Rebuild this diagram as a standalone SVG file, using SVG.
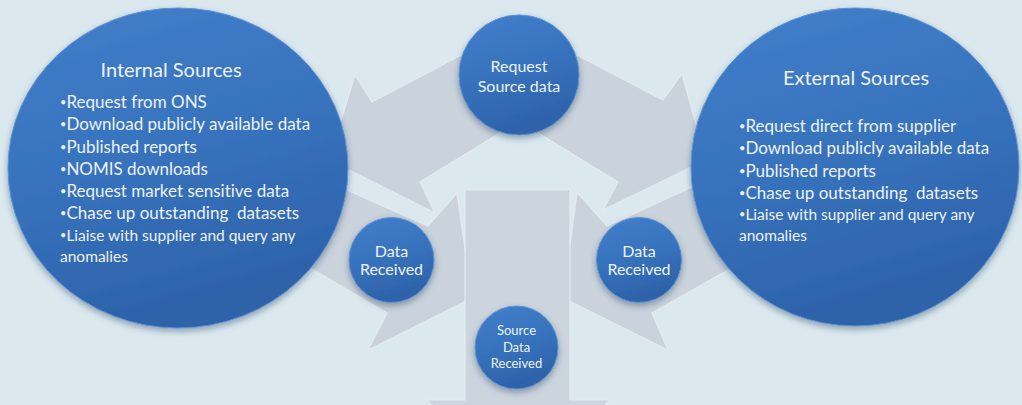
<svg xmlns="http://www.w3.org/2000/svg" width="1022" height="405" viewBox="0 0 1022 405">
  <defs>
    <linearGradient id="blue" x1="0" y1="0" x2="0.3" y2="1">
      <stop offset="0" stop-color="#427fca"/>
      <stop offset="0.5" stop-color="#3873be"/>
      <stop offset="1" stop-color="#2d63aa"/>
    </linearGradient>
    <filter id="shadow" x="-20%" y="-20%" width="140%" height="150%">
      <feDropShadow dx="0" dy="3" stdDeviation="3" flood-color="#1c3350" flood-opacity="0.4"/>
    </filter>
    <style>
      .arrow { fill: #cad3dc; stroke: #e4ebf0; stroke-width: 1.2; }
      .box { fill: #ccd5de; stroke: #e4ebf0; stroke-width: 1.2; }
      .node { fill: url(#blue); stroke: #5a92d6; stroke-width: 1; filter: url(#shadow); }
      text { font-family: Lato, "Open Sans", "Liberation Sans", sans-serif; fill: #edf2f7; font-variant-ligatures: none; white-space: pre; }
      .title { font-size: 20px; text-anchor: middle; }
      .item { font-size: 17px; }
      .small { font-size: 15.5px; }
      .b { font-size: 11px; }
      .lbl { font-size: 16px; text-anchor: middle; }
      .lbl2 { font-size: 13px; text-anchor: middle; }
    </style>
  </defs>
  <rect width="1022" height="405" fill="#dbe9ef"/>

  <g id="connectors">
    <polygon class="arrow" points="490,40 372,102 355,75 329,160 435,213 420,182 508,128"/>
    <polygon class="arrow" points="548,40 663,100 682,74 706,160 603,210 618,182 530,128"/>
    <polygon class="arrow" points="320,178 428,226 457,193 472,298 368,350 387,313 300,262"/>
    <polygon class="arrow" points="716,176 607,226 577,192 563,298 668,350 652,313 735,266"/>
    <polygon class="box" points="465,190 570,190 570,400 610,400 517,493 427,400 465,400"/>
  </g>

  <g id="internal-sources">
    <ellipse class="node" cx="178" cy="168" rx="170" ry="160"/>
    <text class="title" x="171" y="77">Internal Sources</text>
    <text class="item" x="60" y="108"><tspan class="b" dy="-2">•</tspan><tspan dy="2">Request from ONS</tspan></text>
    <text class="item" x="60" y="130"><tspan class="b" dy="-2">•</tspan><tspan dy="2">Download publicly available data</tspan></text>
    <text class="item" x="60" y="153"><tspan class="b" dy="-2">•</tspan><tspan dy="2">Published reports</tspan></text>
    <text class="item" x="60" y="175"><tspan class="b" dy="-2">•</tspan><tspan dy="2">NOMIS downloads</tspan></text>
    <text class="item" x="60" y="197"><tspan class="b" dy="-2">•</tspan><tspan dy="2">Request market sensitive data</tspan></text>
    <text class="item" x="60" y="219"><tspan class="b" dy="-2">•</tspan><tspan dy="2">Chase up outstanding  datasets</tspan></text>
    <text class="small" x="60" y="241"><tspan class="b" dy="-2">•</tspan><tspan dy="2">Liaise with supplier and query any</tspan></text>
    <text class="small" x="60" y="262">anomalies</text>
  </g>

  <g id="external-sources">
    <ellipse class="node" cx="855" cy="167" rx="164" ry="159"/>
    <text class="title" x="856" y="85">External Sources</text>
    <text class="item" x="739" y="132"><tspan class="b" dy="-2">•</tspan><tspan dy="2">Request direct from supplier</tspan></text>
    <text class="item" x="739" y="154"><tspan class="b" dy="-2">•</tspan><tspan dy="2">Download publicly available data</tspan></text>
    <text class="item" x="739" y="177"><tspan class="b" dy="-2">•</tspan><tspan dy="2">Published reports</tspan></text>
    <text class="item" x="739" y="199"><tspan class="b" dy="-2">•</tspan><tspan dy="2">Chase up outstanding  datasets</tspan></text>
    <text class="small" x="739" y="220"><tspan class="b" dy="-2">•</tspan><tspan dy="2">Liaise with supplier and query any</tspan></text>
    <text class="small" x="739" y="241">anomalies</text>
  </g>

  <g id="request-source-data">
    <circle class="node" cx="519" cy="75" r="60"/>
    <text class="lbl" x="519" y="72">Request</text>
    <text class="lbl" x="519" y="92">Source data</text>
  </g>

  <g id="data-received-left">
    <circle class="node" cx="391.5" cy="260" r="42.5"/>
    <text class="lbl" x="391.5" y="257">Data</text>
    <text class="lbl" x="391.5" y="275">Received</text>
  </g>

  <g id="data-received-right">
    <circle class="node" cx="639" cy="260" r="42.5"/>
    <text class="lbl" x="639" y="257">Data</text>
    <text class="lbl" x="639" y="275">Received</text>
  </g>

  <g id="source-data-received">
    <circle class="node" cx="516.5" cy="347.5" r="41.5"/>
    <text class="lbl2" x="516.5" y="335">Source</text>
    <text class="lbl2" x="516.5" y="352">Data</text>
    <text class="lbl2" x="516.5" y="368">Received</text>
  </g>
</svg>
